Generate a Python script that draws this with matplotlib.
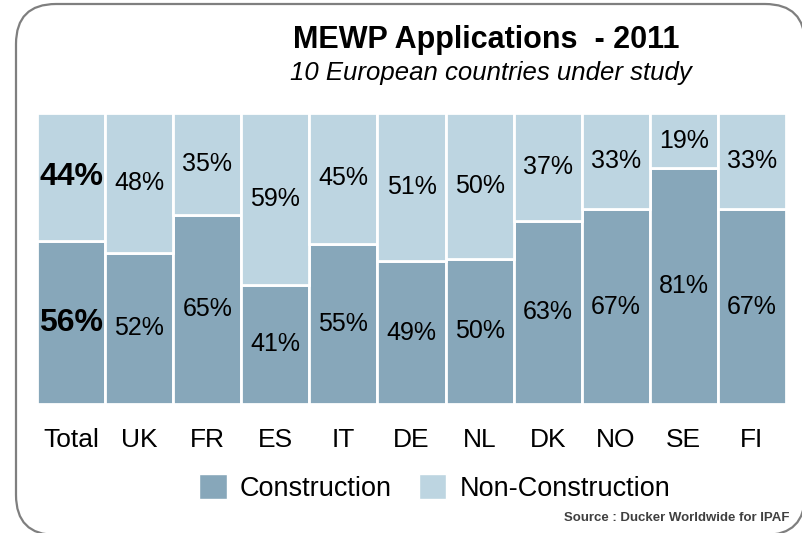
import matplotlib.pyplot as plt
from matplotlib.patches import FancyBboxPatch, Patch

plt.rcParams['font.family'] = ['Liberation Sans', 'DejaVu Sans']

countries = ['Total', 'UK', 'FR', 'ES', 'IT', 'DE', 'NL', 'DK', 'NO', 'SE', 'FI']
construction = [56, 52, 65, 41, 55, 49, 50, 63, 67, 81, 67]
non_construction = [44, 48, 35, 59, 45, 51, 50, 37, 33, 19, 33]

c_con = '#87a7ba'
c_non = '#bdd5e1'

fig = plt.figure(figsize=(8.02, 5.33), dpi=100)

# rounded frame, drawn in pixel coords
bg = fig.add_axes([0, 0, 1, 1])
bg.set_xlim(0, 802)
bg.set_ylim(533, 0)
bg.axis('off')
bg.add_patch(FancyBboxPatch((16, 4), 789, 531, boxstyle='round,pad=0,rounding_size=40',
                            fc='white', ec='#7f7f7f', lw=1.6, clip_on=False))

ax = fig.add_axes([37 / 802, 1 - 404 / 533, (786 - 37) / 802, (404 - 113) / 533])
x = range(len(countries))
ax.bar(x, construction, width=1.0, color=c_con, edgecolor='white', linewidth=2)
ax.bar(x, non_construction, bottom=construction, width=1.0, color=c_non,
       edgecolor='white', linewidth=2)
ax.set_xlim(-0.5, len(countries) - 0.5)
ax.set_ylim(0, 100)
for s in ax.spines.values():
    s.set_visible(False)
ax.set_yticks([])
ax.set_xticks(list(x))
ax.set_xticklabels(countries, fontsize=19)
ax.tick_params(axis='x', length=0, pad=17)

for i, (c, n) in enumerate(zip(construction, non_construction)):
    if i == 0:
        kw = dict(fontsize=23, fontweight='bold')
    else:
        kw = dict(fontsize=18)
    ax.text(i, c / 2, f'{c}%', ha='center', va='center', **kw)
    ax.text(i, c + n / 2, f'{n}%', ha='center', va='center', **kw)

fig.text(486 / 802, 1 - 40 / 533, 'MEWP Applications  - 2011', ha='center', va='center',
         fontsize=22, fontweight='bold')
fig.text(491 / 802, 1 - 73 / 533, '10 European countries under study', ha='center',
         va='center', fontsize=18.5, style='italic')

handles = [Patch(facecolor=c_con, edgecolor='white'), Patch(facecolor=c_non, edgecolor='white')]
fig.legend(handles, ['Construction', 'Non-Construction'], ncol=2, loc='center',
           bbox_to_anchor=(435 / 802, 1 - 488 / 533), frameon=False, fontsize=19.5,
           handlelength=1.0, handleheight=1.0, columnspacing=1.0, handletextpad=0.5)

fig.text(790 / 802, 1 - 518 / 533, 'Source : Ducker Worldwide for IPAF', ha='right',
         va='center', fontsize=9.5, color='#404040', fontweight='bold')

fig.savefig('out.png', dpi=100)
